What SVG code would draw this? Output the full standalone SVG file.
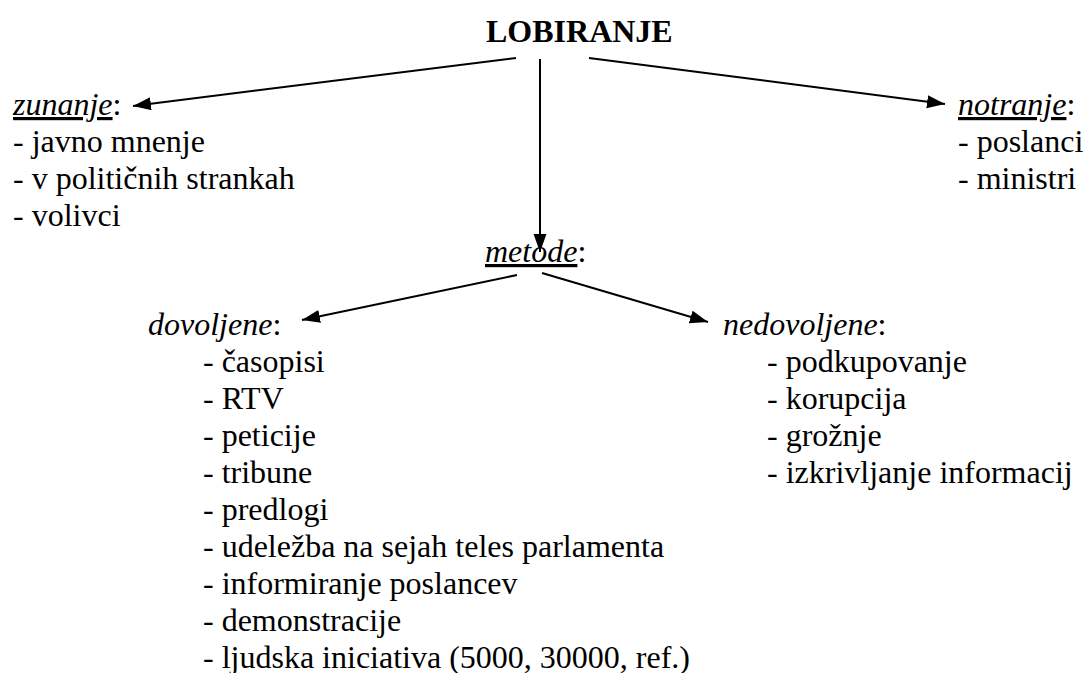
<svg xmlns="http://www.w3.org/2000/svg" width="1084" height="673" viewBox="0 0 1084 673">
<style>
.tx{font-family:"Liberation Serif","Times New Roman",serif;font-size:32px;fill:#000}
.t{font-weight:bold}
.h{font-style:italic}
.u{text-decoration:underline}
</style>
<defs>
<marker id="ah" markerUnits="userSpaceOnUse" markerWidth="20" markerHeight="14" refX="18" refY="6.5" orient="auto">
<path d="M0,0 L18,6.5 L0,13 z" fill="#000"/>
</marker>
</defs>
<rect width="1084" height="673" fill="#fff"/>
<g id="connectors" stroke="#000" stroke-width="2" marker-end="url(#ah)">
<line x1="516" y1="58" x2="133" y2="106"/>
<line x1="589" y1="58" x2="945" y2="104"/>
<line x1="540" y1="59" x2="540" y2="252"/>
<line x1="517" y1="275" x2="302" y2="320"/>
<line x1="542" y1="273" x2="708" y2="322"/>
</g>
<g id="lobiranje"><text class="tx t" font-family="Liberation Serif" x="486" y="42">LOBIRANJE</text></g>
<g id="zunanje">
<text class="tx" font-family="Liberation Serif" x="13" y="115"><tspan class="h u">zunanje</tspan>:</text>
<text class="tx" font-family="Liberation Serif" x="13" y="152">- javno mnenje</text>
<text class="tx" font-family="Liberation Serif" x="13" y="189">- v političnih strankah</text>
<text class="tx" font-family="Liberation Serif" x="13" y="226">- volivci</text>
</g>
<g id="notranje">
<text class="tx" font-family="Liberation Serif" x="958" y="115"><tspan class="h u">notranje</tspan>:</text>
<text class="tx" font-family="Liberation Serif" x="958" y="152">- poslanci</text>
<text class="tx" font-family="Liberation Serif" x="958" y="189">- ministri</text>
</g>
<g id="metode"><text class="tx" font-family="Liberation Serif" x="485" y="262"><tspan class="h u">metode</tspan>:</text></g>
<g id="dovoljene">
<text class="tx" font-family="Liberation Serif" x="148" y="335"><tspan class="h">dovoljene</tspan>:</text>
<text class="tx" font-family="Liberation Serif" x="203" y="372">- časopisi</text>
<text class="tx" font-family="Liberation Serif" x="203" y="409">- RTV</text>
<text class="tx" font-family="Liberation Serif" x="203" y="446">- peticije</text>
<text class="tx" font-family="Liberation Serif" x="203" y="483">- tribune</text>
<text class="tx" font-family="Liberation Serif" x="203" y="520">- predlogi</text>
<text class="tx" font-family="Liberation Serif" x="203" y="557">- udeležba na sejah teles parlamenta</text>
<text class="tx" font-family="Liberation Serif" x="203" y="594">- informiranje poslancev</text>
<text class="tx" font-family="Liberation Serif" x="203" y="631">- demonstracije</text>
<text class="tx" font-family="Liberation Serif" x="203" y="668">- ljudska iniciativa (5000, 30000, ref.)</text>
</g>
<g id="nedovoljene">
<text class="tx" font-family="Liberation Serif" x="723" y="335"><tspan class="h">nedovoljene</tspan>:</text>
<text class="tx" font-family="Liberation Serif" x="767" y="372">- podkupovanje</text>
<text class="tx" font-family="Liberation Serif" x="767" y="409">- korupcija</text>
<text class="tx" font-family="Liberation Serif" x="767" y="446">- grožnje</text>
<text class="tx" font-family="Liberation Serif" x="767" y="483">- izkrivljanje informacij</text>
</g>
</svg>
